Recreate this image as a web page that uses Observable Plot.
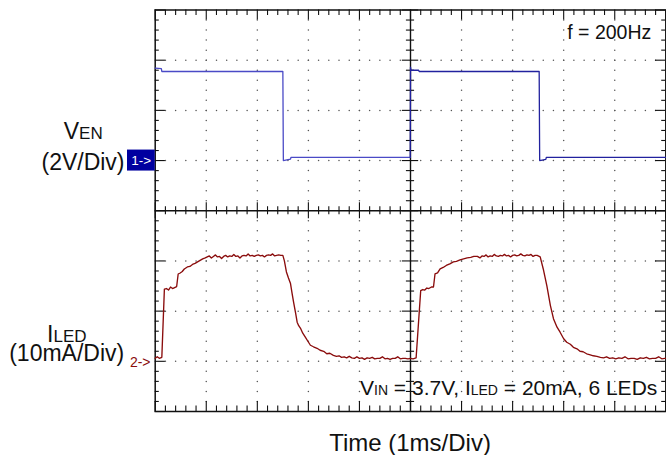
<!DOCTYPE html>
<html><head><meta charset="utf-8">
<script src="https://cdn.jsdelivr.net/npm/d3@7"></script>
<script src="https://cdn.jsdelivr.net/npm/@observablehq/plot@0.6"></script>
<style>body{margin:0;background:#fff} svg{display:block}</style>
</head><body><div id="chart"></div>
<script>
// ---- data (time in ms, VEN in volts, ILED in mA) ----
const venPeriod1 = [[0,3.68],[0.12,3.66],[0.13,3.55],[2.50,3.55],[2.51,0.0],[2.65,0.06],[2.66,0.13],[4.995,0.13]];
const venPeriod2 = [[4.995,0.13],[5.0,3.72],[5.01,3.6],[5.16,3.6],[5.17,3.55],[7.52,3.55],[7.53,0.0],[7.65,0.05],[7.66,0.13],[10,0.13]];
const iled = [
[0.00,0.6],[0.04,0.9],[0.08,0.6],[0.13,0.8],[0.18,14.4],[0.22,14.5],[0.26,14.2],[0.30,14.8],[0.34,14.5],[0.38,14.7],[0.42,14.9],
[0.45,17.4],[0.49,17.6],[0.53,17.9],[0.57,18.4],[0.63,18.8],[0.68,18.9],[0.73,19.3],[0.78,19.5],[0.83,19.8],[0.88,20.1],[0.93,20.4],[0.98,20.6],
[1.02,20.8],[1.06,21.0],[1.10,20.6],[1.14,20.9],[1.18,21.2],[1.22,20.8],[1.26,20.9],[1.30,20.5],[1.34,20.9],[1.38,21.1],[1.42,20.8],[1.46,21.0],
[1.50,20.9],[1.54,21.3],[1.58,20.9],[1.62,21.0],[1.66,20.6],[1.70,21.0],[1.74,21.1],[1.78,21.0],[1.82,21.4],[1.86,21.0],[1.90,21.1],[1.94,20.9],
[1.98,21.1],[2.02,21.2],[2.06,21.0],[2.10,21.1],[2.14,20.8],[2.18,21.1],[2.22,21.2],[2.26,21.1],[2.30,21.4],[2.34,21.0],[2.38,21.1],[2.42,21.2],
[2.46,21.1],[2.50,21.1],[2.53,20.0],[2.57,17.8],[2.61,16.6],[2.65,15.5],[2.68,13.6],[2.71,11.8],[2.75,9.6],[2.78,7.8],[2.81,7.1],[2.85,6.5],
[2.89,5.6],[2.94,4.8],[2.99,4.0],[3.04,3.2],[3.10,2.9],[3.17,2.6],[3.23,2.2],[3.30,2.0],[3.36,1.5],[3.42,1.6],[3.49,1.2],[3.55,1.0],[3.60,1.1],
[3.65,0.8],[3.70,0.9],[3.75,0.7],[3.80,1.0],[3.85,0.7],[3.90,0.6],[3.95,0.9],[4.00,0.6],[4.05,0.7],[4.10,0.4],[4.15,0.7],[4.20,0.6],[4.25,0.8],
[4.30,0.5],[4.35,0.6],[4.40,0.6],[4.45,0.9],[4.50,0.5],[4.55,0.6],[4.60,0.4],[4.65,0.6],[4.70,0.6],[4.75,0.9],[4.80,0.5],[4.85,0.6],[4.90,0.6],
[4.95,0.5],[5.00,0.6],[5.05,0.5],[5.11,0.7],[5.20,14.1],[5.24,14.3],[5.28,14.2],[5.32,14.6],[5.36,14.5],[5.41,14.8],[5.45,14.8],[5.48,17.4],
[5.53,17.6],[5.58,18.4],[5.64,18.7],[5.70,19.1],[5.77,19.4],[5.84,19.8],[5.90,19.9],[5.97,20.2],[6.04,20.4],[6.11,20.6],[6.18,20.7],[6.24,20.9],
[6.31,20.9],[6.36,20.6],[6.40,21.0],[6.44,20.9],[6.48,21.2],[6.52,20.8],[6.56,21.0],[6.60,20.9],[6.64,21.3],[6.68,21.0],[6.72,20.9],[6.76,21.1],
[6.80,21.0],[6.84,21.3],[6.88,21.0],[6.92,21.1],[6.96,20.8],[7.00,21.1],[7.04,21.2],[7.08,21.0],[7.12,21.1],[7.16,21.4],[7.20,21.1],[7.24,21.0],
[7.28,21.2],[7.32,21.1],[7.36,21.3],[7.40,20.9],[7.44,21.1],[7.48,21.1],[7.54,20.8],[7.60,18.4],[7.67,15.1],[7.74,11.1],[7.80,8.5],[7.87,6.8],
[7.93,5.8],[8.00,4.5],[8.06,3.8],[8.13,3.4],[8.19,2.8],[8.26,2.5],[8.32,2.0],[8.38,1.9],[8.45,1.5],[8.52,1.3],[8.58,1.1],[8.65,1.0],[8.72,0.8],
[8.78,0.7],[8.84,0.9],[8.90,0.6],[8.96,0.7],[9.02,0.5],[9.08,0.7],[9.14,0.6],[9.20,0.9],[9.26,0.5],[9.32,0.6],[9.38,0.6],[9.44,0.4],[9.50,0.7],
[9.56,0.6],[9.62,0.8],[9.68,0.5],[9.74,0.6],[9.80,0.6],[9.86,0.9],[9.92,0.5],[9.98,0.6],[10.00,0.6]];

// channel settings (divisions)
const ch1Zero = 1, ch1PerDiv = 2;    // V/div
const ch2Zero = -3, ch2PerDiv = 10;  // mA/div
const xDivs = 10, yDivs = 8;

// text
const venLabel = [["V", false], ["EN", true]];
const ledLabel = [["I", false], ["LED", true]];
const venScaleLabel = "(2V/Div)";
const ledScaleLabel = "(10mA/Div)";
const ch1Marker = "1->";
const ch2Marker = "2->";
const freqNote = "f = 200Hz";
const condLabel = [["V", false], ["IN", true], [" = 3.7V, I", false], ["LED", true], [" = 20mA, 6 LEDs", false]];
const timeLabel = "Time (1ms/Div)";

// ---- helpers ----
const join = parts => parts.map(p => p[0]).join("");
const minorX = d3.range(0, xDivs * 5 + 1).map(i => i / 5);
const minorY = d3.range(-yDivs * 5 / 2, yDivs * 5 / 2 + 1).map(i => i / 5);
const isMajor = v => Math.abs(v - Math.round(v)) < 1e-6;
const gridXs = d3.range(1, xDivs).filter(k => k !== xDivs / 2);
const gridYs = d3.range(-yDivs / 2 + 1, yDivs / 2).filter(k => k !== 0);
const gridDots = [];
for (const k of gridXs) for (const v of minorY) gridDots.push([k, v]);
for (const k of gridYs) for (const v of minorX) gridDots.push([v, k]);
const inner = gridDots.filter(([x, y]) => x > 0 && x < xDivs && y > -yDivs/2 && y < yDivs/2);

const ink = "#111";
const FONT = "'Liberation Sans', Arial, Helvetica, sans-serif";
const W = 666, H = 455, mL = 154.7, mR = 0.7, mT = 9.5, mB = 44;

const svg = Plot.plot({
  width: W, height: H,
  marginLeft: mL, marginRight: mR, marginTop: mT, marginBottom: mB,
  x: {domain: [0, xDivs], axis: null},
  y: {domain: [-yDivs / 2, yDivs / 2], axis: null},
  style: {fontFamily: FONT, background: "white", overflow: "visible"},
  marks: [
    Plot.dot(inner, {x: d => d[0], y: d => d[1], r: 0.75, fill: "#555", stroke: null}),
    // centre axes
    Plot.ruleX([xDivs / 2], {stroke: ink, strokeWidth: 1.4}),
    Plot.ruleY([0], {stroke: ink, strokeWidth: 1.4}),
    Plot.ruleX(minorX, {x: d => d, y1: d => isMajor(d) ? -0.16 : -0.08, y2: d => isMajor(d) ? 0.16 : 0.08, stroke: ink, strokeWidth: 1.1}),
    Plot.ruleY(minorY, {y: d => d, x1: d => xDivs/2 - (isMajor(d) ? 0.16 : 0.08), x2: d => xDivs/2 + (isMajor(d) ? 0.16 : 0.08), stroke: ink, strokeWidth: 1.1}),
    // edge ticks
    Plot.ruleX(minorX, {x: d => d, y1: yDivs/2, y2: d => yDivs/2 - (isMajor(d) ? 0.2 : 0.11), stroke: ink, strokeWidth: 1.1}),
    Plot.ruleX(minorX, {x: d => d, y1: -yDivs/2, y2: d => -yDivs/2 + (isMajor(d) ? 0.2 : 0.11), stroke: ink, strokeWidth: 1.1}),
    Plot.ruleY(minorY, {y: d => d, x1: 0, x2: d => isMajor(d) ? 0.2 : 0.08, stroke: ink, strokeWidth: 1.1}),
    Plot.ruleY(minorY, {y: d => d, x1: xDivs, x2: d => xDivs - (isMajor(d) ? 0.2 : 0.08), stroke: ink, strokeWidth: 1.1}),
    Plot.frame({stroke: ink, strokeWidth: 1.5}),
    // traces
    Plot.line(venPeriod1, {x: d => d[0], y: d => ch1Zero + d[1] / ch1PerDiv, stroke: "#4a4ac6", strokeWidth: 1.3}),
    Plot.line(venPeriod2, {x: d => d[0], y: d => ch1Zero + d[1] / ch1PerDiv, stroke: "#22229e", strokeWidth: 1.3}),
    Plot.line(iled, {x: d => d[0], y: d => ch2Zero + d[1] / ch2PerDiv, stroke: "#8a0c0c", strokeWidth: 1.35}),
    // labels
    Plot.text([join(venLabel)], {text: d => d, frameAnchor: "top-left", dx: 82.7 - mL, dy: 138.5 - mT, lineAnchor: "bottom", textAnchor: "middle", fontSize: 23, fill: ink}),
    Plot.text([venScaleLabel], {text: d => d, frameAnchor: "top-left", dx: 82.5 - mL, dy: 169.5 - mT, lineAnchor: "bottom", textAnchor: "middle", fontSize: 23, fill: ink}),
    Plot.text([join(ledLabel)], {text: d => d, frameAnchor: "top-left", dx: 66.3 - mL, dy: 341 - mT, lineAnchor: "bottom", textAnchor: "middle", fontSize: 23, fill: ink}),
    Plot.text([ledScaleLabel], {text: d => d, frameAnchor: "top-left", dx: 66.2 - mL, dy: 360.5 - mT, lineAnchor: "bottom", textAnchor: "middle", fontSize: 23, fill: ink}),
    Plot.text([ch1Marker], {text: d => d, y: () => ch1Zero, frameAnchor: "left", dx: 140.8 - mL, textAnchor: "middle", fontSize: 13.5, fill: "white"}),
    Plot.text([ch2Marker], {text: d => d, y: () => ch2Zero, frameAnchor: "left", dx: 139.7 - mL, dy: 1.5, textAnchor: "middle", fontSize: 14, fill: "#8a0c0c"}),
    Plot.text([freqNote], {text: d => d, frameAnchor: "top-right", dx: 650.8 - (W - mR), dy: 38.3 - mT, lineAnchor: "bottom", textAnchor: "end", fontSize: 19.5, fill: ink}),
    Plot.text([join(condLabel)], {text: d => d, frameAnchor: "top-right", dx: 656.8 - (W - mR), dy: 394 - mT, lineAnchor: "bottom", textAnchor: "end", fontSize: 21, fill: ink}),
    Plot.text([timeLabel], {text: d => d, frameAnchor: "top-left", dx: 409.5 - mL, dy: 450 - mT, lineAnchor: "bottom", textAnchor: "middle", fontSize: 24, fill: ink})
  ]
});
document.getElementById("chart").append(svg);

// subscripts as tspans
const subs = [[venLabel, 17], [ledLabel, 17], [condLabel, 14]];
d3.select(svg).selectAll("text").each(function () {
  const t = this.textContent;
  for (const [parts, subSize] of subs) {
    if (t === join(parts)) {
      const el = d3.select(this);
      el.text(null).style("white-space", "pre");
      for (const [s, isSub] of parts) {
        const ts = el.append("tspan").text(s);
        if (isSub) ts.attr("font-size", subSize);
      }
    }
  }
  if (t === ch1Marker) {
    const yPx = svg.scale("y").apply(ch1Zero);
    const g = this.parentNode;
    d3.select(g.parentNode).insert("rect", () => g)
      .attr("x", 127).attr("y", yPx - 10.5).attr("width", mL - 127).attr("height", 21)
      .attr("fill", "#0000a0");
  }
});
</script>
</body></html>
